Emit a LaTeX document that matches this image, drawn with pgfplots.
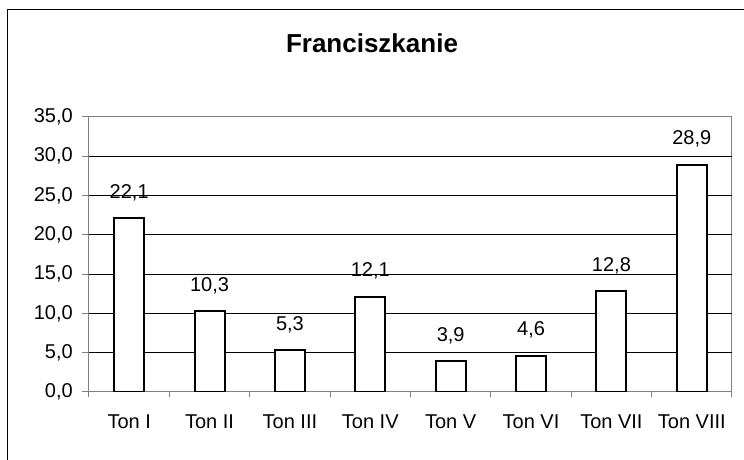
\documentclass[border=0pt]{standalone}
\usepackage{fontspec}
\setmainfont{Liberation Sans}
\usepackage{pgfplots}
\pgfplotsset{compat=1.18}
\pgfplotstableread{
x v
1 22.1
2 10.3
3 5.3
4 12.1
5 3.9
6 4.6
7 12.8
8 28.9
}\datatable
\begin{document}
\begin{tikzpicture}[x=1pt,y=1pt]
\useasboundingbox (0,0) rectangle (558,345);
\draw[line width=0.75pt] (5.5,-10) -- (5.5,337.5) -- (570,337.5);
\node[anchor=base,inner sep=0pt,font=\fontsize{19.5}{23}\selectfont\bfseries] at (279,305.25) {Franciszkanie};
\begin{axis}[
  at={(66.75pt,51pt)}, anchor=south west,
  scale only axis, width=482.25pt, height=206.25pt,
  xmin=0.5, xmax=8.5, ymin=0, ymax=35,
  xtick pos=bottom, ytick pos=left,
  xtick={1,...,8},
  xticklabels={Ton I,Ton II,Ton III,Ton IV,Ton V,Ton VI,Ton VII,Ton VIII},
  major x tick style={draw=none},
  minor xtick={0.5,1.5,...,8.5},
  minor tick length=4pt,
  major tick length=5.25pt,
  tick align=outside,
  ytick={0,5,...,35},
  extra y ticks={5,10,...,30},
  extra y tick labels={},
  extra y tick style={grid=major, major tick length=0pt},
  major grid style={black, line width=0.75pt},
  axis line style={color=gray, line width=0.75pt},
  tick style={color=gray, line width=0.75pt},
  /pgf/number format/.cd, fixed, fixed zerofill, precision=1, use comma, assume math mode=true,
  /pgfplots/.cd,
  ticklabel style={font=\fontsize{15}{17}\selectfont},
  yticklabel style={anchor=east, inner sep=0pt, xshift=-12pt+5.25pt},
  xticklabel style={anchor=base, inner sep=0pt, yshift=-22.5pt},
  ybar, bar width=22.5pt,
  nodes near coords,
  nodes near coords style={anchor=base, inner sep=0pt, yshift=15pt, font=\fontsize{15}{17}\selectfont, black},
]
\addplot[draw=black, fill=white, line width=1.5pt] table[x=x,y=v] {\datatable};
\end{axis}
\end{tikzpicture}
\end{document}
